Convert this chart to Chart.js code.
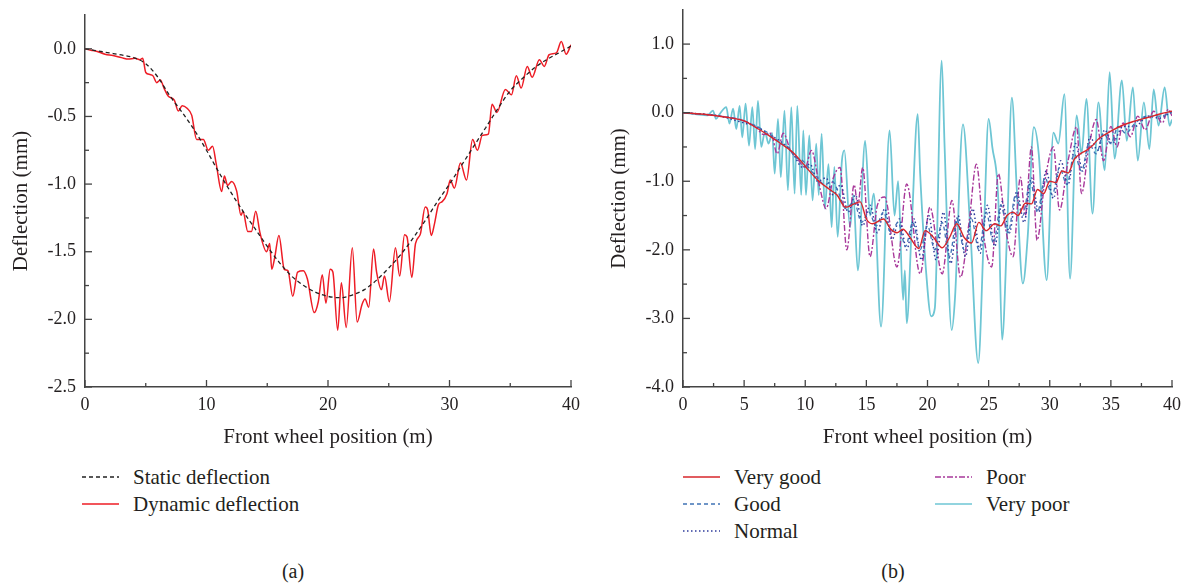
<!DOCTYPE html>
<html>
<head>
<meta charset="utf-8">
<script src="https://cdn.jsdelivr.net/npm/chart.js@4.4.0/dist/chart.umd.min.js"></script>
<style>
    body { margin:0; background:#fff; width:1188px; height:584px; overflow:hidden; position:relative; font-family:'Liberation Serif', serif; color:#231f20; }
    canvas { position:absolute; top:-10px; }
    .item { position:absolute; height:24px; line-height:24px; font-size:21px; white-space:nowrap; display:flex; align-items:center; }
    .item svg { margin-right:14px; }
    .cap { position:absolute; top:560px; font-size:20px; transform:translateX(-50%); }
</style>
</head>
<body>
<canvas id="chartA" width="590" height="465" style="left:0"></canvas>
<canvas id="chartB" width="590" height="465" style="left:598px"></canvas>
<div id="legendA"></div>
<div id="legendB"></div>
<div class="cap" style="left:293px">(a)</div>
<div class="cap" style="left:893px">(b)</div>

<script>
const FONT = "'Liberation Serif', serif";

// (a) static vs dynamic deflection, [x (m), deflection (mm)]
const staticDeflection = [[0,0],[1,-0.015],[2,-0.03],[3,-0.045],[4,-0.065],[5,-0.11],[6,-0.21],[7,-0.35],[8,-0.47],[9,-0.6],
    [10,-0.75],[11,-0.91],[12,-1.06],[13,-1.2],[14,-1.33],[15,-1.46],[16,-1.58],[17,-1.68],[18,-1.75],[19,-1.8],
    [20,-1.83],[21,-1.84],[22,-1.82],[23,-1.78],[24,-1.71],[25,-1.62],[26,-1.52],[27,-1.4],[28,-1.27],[29,-1.13],
    [30,-1.0],[31,-0.86],[32,-0.72],[33,-0.58],[34,-0.44],[35,-0.31],[36,-0.22],[37,-0.14],[38,-0.08],[39,-0.03],[40,0.02]];
const dynamicDeflection = [[0,0],[0.5,-0.01],[1,-0.02],[1.65,-0.04],[2.3,-0.05],[3,-0.065],[3.57,-0.076],[4.1,-0.07],[4.53,-0.08],[4.75,-0.07],
    [5.0,-0.175],[5.35,-0.19],[5.6,-0.2],[5.9,-0.25],[6.2,-0.23],[6.5,-0.29],[6.86,-0.35],[7.35,-0.38],[7.68,-0.46],[8.0,-0.42],
    [8.4,-0.44],[8.78,-0.49],[9.19,-0.67],[9.74,-0.67],[10.15,-0.75],[10.5,-0.72],[10.8,-0.85],[11.25,-1.055],[11.47,-0.94],[11.74,-1.01],
    [12.07,-0.98],[12.48,-1.05],[12.84,-1.23],[13.0,-1.2],[13.4,-1.35],[13.7,-1.35],[14.05,-1.2],[14.4,-1.36],[14.95,-1.5],[15.2,-1.44],
    [15.37,-1.63],[15.6,-1.55],[15.96,-1.38],[16.4,-1.63],[16.7,-1.64],[17.1,-1.83],[17.5,-1.65],[17.97,-1.64],[18.3,-1.7],[18.87,-1.95],
    [19.2,-1.87],[19.53,-1.67],[19.83,-1.88],[20.18,-1.63],[20.4,-1.65],[20.8,-2.08],[21.1,-1.73],[21.5,-2.06],[22.0,-1.47],[22.4,-2.02],
    [22.8,-1.89],[23.05,-1.85],[23.35,-1.91],[23.75,-1.48],[24.0,-1.65],[24.4,-1.78],[24.65,-1.68],[25.05,-1.87],[25.55,-1.47],[25.9,-1.68],
    [26.3,-1.375],[26.5,-1.39],[26.9,-1.69],[27.2,-1.44],[27.6,-1.37],[28.0,-1.17],[28.2,-1.19],[28.5,-1.38],[28.75,-1.3],[29.1,-1.15],
    [29.4,-1.13],[29.8,-1.07],[30.06,-0.97],[30.4,-1.03],[30.9,-0.845],[31.4,-0.97],[31.9,-0.67],[32.3,-0.75],[32.7,-0.64],[33.2,-0.63],
    [33.5,-0.41],[33.9,-0.47],[34.6,-0.3],[35.1,-0.34],[35.5,-0.2],[35.9,-0.29],[36.4,-0.13],[36.8,-0.21],[37.4,-0.08],[37.8,-0.13],
    [38.2,-0.044],[38.8,-0.03],[39.2,0.054],[39.6,-0.04],[40.0,0.03]];

// (b) road roughness levels, [x (m), deflection (mm)]
const veryGood = [[0,0],[2,-0.03],[4,-0.08],[5,-0.12],[6,-0.22],[7,-0.33],[8,-0.45],[9,-0.58],[10,-0.78],[11,-0.98],
    [12,-1.12],[12.6,-1.2],[13.3,-1.38],[14,-1.33],[14.5,-1.3],[15,-1.55],[15.5,-1.62],[16.4,-1.55],[17,-1.7],[17.5,-1.75],
    [18,-1.7],[18.5,-1.8],[19.3,-1.98],[19.8,-1.72],[20.5,-1.82],[21.2,-1.97],[21.8,-1.82],[22.4,-1.62],[23,-1.82],[23.6,-1.9],
    [24.2,-1.6],[24.8,-1.72],[25.5,-1.62],[26,-1.65],[26.5,-1.5],[27,-1.45],[27.4,-1.5],[28,-1.32],[28.5,-1.33],[29,-1.12],
    [29.5,-1.18],[30,-1.0],[30.5,-1.02],[31,-0.85],[31.5,-0.88],[32,-0.68],[32.5,-0.6],[33,-0.55],[33.5,-0.48],[34,-0.38],
    [35,-0.27],[36,-0.18],[37,-0.12],[38,-0.07],[39,-0.02],[40,0.02]];
const good = [[0,0],[3,-0.05],[5,-0.12],[6,-0.2],[7,-0.3],[8,-0.45],[8.6,-0.5],[9.2,-0.65],[9.8,-0.7],[10.5,-0.85],
    [11,-0.95],[11.6,-1.05],[12.2,-1.0],[12.8,-1.2],[13.3,-1.4],[14,-1.3],[14.6,-1.6],[15.2,-1.45],[15.8,-1.65],[16.4,-1.45],
    [17,-1.75],[17.6,-1.6],[18.2,-1.95],[18.8,-1.6],[19.4,-2.0],[20,-1.65],[20.6,-2.0],[21.2,-1.6],[21.8,-2.1],[22.4,-1.55],
    [23,-2.0],[23.6,-1.55],[24.2,-2.0],[24.8,-1.45],[25.4,-1.9],[26,-1.35],[26.6,-1.75],[27.2,-1.2],[27.8,-1.5],[28.4,-1.0],
    [29,-1.45],[29.6,-0.95],[30.2,-1.2],[30.8,-0.8],[31.4,-1.05],[32,-0.6],[32.6,-0.85],[33.2,-0.45],[33.8,-0.6],[34.4,-0.3],
    [35,-0.45],[35.6,-0.2],[36.2,-0.3],[37,-0.15],[38,-0.05],[39,-0.05],[40,0]];
const normal = [[0,0],[3,-0.05],[5,-0.15],[6,-0.2],[7,-0.32],[8,-0.42],[9,-0.6],[9.8,-0.8],[10.4,-0.75],[11,-1.0],
    [11.7,-0.95],[12.3,-1.2],[12.9,-1.05],[13.5,-1.45],[14.1,-1.2],[14.7,-1.65],[15.3,-1.35],[15.9,-1.75],[16.5,-1.4],[17.1,-1.85],
    [17.7,-1.55],[18.3,-2.0],[18.9,-1.55],[19.5,-2.15],[20.1,-1.5],[20.7,-2.15],[21.3,-1.45],[21.9,-2.2],[22.5,-1.5],[23.1,-2.1],
    [23.7,-1.4],[24.3,-2.05],[24.9,-1.35],[25.5,-1.95],[26.1,-1.3],[26.7,-1.75],[27.3,-1.15],[27.9,-1.6],[28.5,-0.95],[29.1,-1.45],
    [29.7,-0.85],[30.3,-1.25],[30.9,-0.7],[31.5,-1.05],[32.1,-0.45],[32.7,-0.85],[33.3,-0.35],[33.9,-0.55],[34.5,-0.25],[35.1,-0.45],
    [36,-0.2],[37,-0.2],[38,-0.05],[39,-0.08],[40,0.02]];
const poor = [[0,0],[3,-0.05],[5,-0.12],[6,-0.22],[6.6,-0.32],[7.2,-0.3],[7.7,-0.6],[8.2,-0.3],[8.8,-0.55],[9.4,-0.68],
    [10,-0.8],[10.5,-0.55],[11.2,-1.1],[11.7,-1.4],[12.3,-0.95],[12.85,-0.8],[13.4,-2.0],[14.0,-1.05],[14.3,-1.35],[14.7,-0.8],
    [15.3,-2.1],[15.9,-1.35],[16.5,-1.23],[17.5,-2.25],[18.3,-1.04],[19.4,-2.35],[20.2,-1.38],[21.2,-2.35],[22.0,-1.28],[22.7,-2.4],
    [23.4,-1.6],[24.0,-0.75],[24.6,-1.8],[25.25,-2.25],[25.8,-0.89],[26.4,-1.7],[27.0,-2.1],[27.6,-0.94],[28.0,-1.5],[28.5,-0.5],
    [28.96,-1.86],[29.6,-1.0],[30.3,-0.5],[30.8,-1.42],[31.5,-0.7],[32.2,-0.21],[32.6,-1.18],[33.2,-0.5],[33.8,-0.1],[34.4,-0.7],
    [35,-0.2],[35.5,-0.5],[36,-0.15],[36.6,-0.35],[37.2,-0.05],[37.8,-0.25],[38.5,0.02],[39.2,-0.15],[39.7,0.05],[40,-0.05]];
const veryPoor = [[0,0],[1,-0.02],[2,-0.04],[2.45,0.03],[2.7,-0.09],[3.0,-0.02],[3.54,0.08],[3.8,-0.16],[4.1,0.06],[4.36,-0.24],
    [4.63,0.1],[4.85,-0.36],[5.12,0.13],[5.4,-0.48],[5.67,0.08],[5.9,-0.53],[6.13,0.17],[6.4,-0.5],[6.7,-0.28],[7.0,-0.45],
    [7.3,-0.3],[7.5,-0.89],[7.77,-0.09],[8.0,-0.94],[8.3,0.03],[8.58,-1.13],[8.86,0.08],[9.13,-1.18],[9.35,0.1],[9.67,-1.2],
    [9.84,-0.26],[10.06,-1.2],[10.33,-0.33],[10.6,-1.28],[10.9,-0.45],[11.1,-1.2],[11.34,-0.31],[11.6,-1.4],[11.9,-0.75],[12.16,-1.67],
    [12.38,-0.79],[12.65,-1.81],[13.0,-0.7],[13.2,-0.55],[13.66,-1.67],[13.93,-1.2],[14.3,-2.3],[14.9,-0.41],[15.3,-1.5],[15.6,-1.18],
    [16.2,-3.12],[16.9,-0.26],[17.3,-1.5],[17.6,-1.0],[18.0,-2.73],[18.15,-2.3],[18.3,-3.07],[18.7,-1.7],[19.2,-0.02],[19.4,-0.89],
    [19.9,-2.35],[20.3,-2.97],[20.6,-2.85],[21.16,0.76],[21.4,-0.5],[21.98,-3.17],[22.25,-2.7],[22.9,-0.17],[23.5,-1.7],[24.15,-3.65],
    [24.6,-1.8],[25.0,-0.09],[25.3,-0.5],[25.8,-1.3],[26.1,-3.31],[26.5,-1.8],[26.9,0.22],[27.3,-1.1],[27.8,-2.49],[28.2,-1.8],
    [28.7,-0.21],[29.1,-0.6],[29.75,-2.44],[30.3,-0.29],[30.7,-0.45],[31.2,0.27],[31.66,-2.42],[32.2,-0.04],[32.6,-0.6],[33.0,0.2],
    [33.5,-1.47],[33.98,0.15],[34.5,-0.84],[34.9,0.59],[35.3,-0.67],[35.9,0.47],[36.3,-0.41],[36.8,0.37],[37.2,-0.7],[37.7,0.15],
    [38.15,-0.53],[38.5,0.34],[38.9,-0.19],[39.4,0.37],[39.8,-0.19],[40,-0.1]];

// axis ticks
const xTicksA = [0, 10, 20, 30, 40];
const yTicksA = [0, -0.5, -1.0, -1.5, -2.0, -2.5];
const xTicksB = [0, 5, 10, 15, 20, 25, 30, 35, 40];
const yTicksB = [1.0, 0, -1.0, -2.0, -3.0, -4.0];

const mids = arr => arr.slice(1).map((v, i) => (v + arr[i]) / 2);
const pts = arr => arr.map(p => ({ x: p[0], y: p[1] }));

// tick marks pointing into the plot
const innerTicks = {
    id: 'innerTicks',
    afterDraw(chart, args, opts) {
        const { ctx, chartArea: a, scales: { x, y } } = chart;
        ctx.save();
        ctx.strokeStyle = '#444';
        ctx.lineWidth = 1.3;
        const mark = (x0, y0, dx, dy) => { ctx.beginPath(); ctx.moveTo(x0, y0); ctx.lineTo(x0 + dx, y0 + dy); ctx.stroke(); };
        opts.x.forEach(v => mark(x.getPixelForValue(v), a.bottom, 0, -7));
        mids(opts.x).forEach(v => mark(x.getPixelForValue(v), a.bottom, 0, -4));
        opts.y.forEach(v => mark(a.left, y.getPixelForValue(v), 7, 0));
        mids(opts.y).forEach(v => mark(a.left, y.getPixelForValue(v), 4, 0));
        ctx.restore();
    }
};

function line(data, color, width, dash) {
    return { data: pts(data), borderColor: color, borderWidth: width, borderDash: dash || [],
             pointRadius: 0, fill: false, cubicInterpolationMode: 'monotone' };
}

function makeChart(id, datasets, xTicks, yTicks, yMin, yMax, padTop, padRight) {
    return new Chart(document.getElementById(id), {
        type: 'line',
        data: { datasets },
        options: {
            responsive: false, animation: false, devicePixelRatio: 1,
            layout: { padding: { top: padTop, right: padRight, left: 0, bottom: 0 } },
            plugins: { legend: { display: false }, tooltip: { enabled: false },
                       innerTicks: { x: xTicks, y: yTicks } },
            scales: {
                x: {
                    type: 'linear', min: 0, max: 40,
                    grid: { display: false, drawTicks: false },
                    border: { color: '#444', width: 1.5 },
                    afterBuildTicks: s => { s.ticks = xTicks.map(v => ({ value: v })); },
                    afterFit: s => { s.height = 68; },
                    ticks: { font: { family: FONT, size: 18 }, color: '#231f20', padding: 7, maxRotation: 0,
                             callback: v => String(v) },
                    title: { display: true, text: 'Front wheel position (m)', color: '#231f20',
                             font: { family: FONT, size: 21 }, padding: { top: 0, bottom: 5 } }
                },
                y: {
                    type: 'linear', min: yMin, max: yMax,
                    grid: { display: false, drawTicks: false },
                    border: { color: '#444', width: 1.5 },
                    afterBuildTicks: s => { s.ticks = yTicks.map(v => ({ value: v })); },
                    afterFit: s => { s.width = 85; },
                    ticks: { font: { family: FONT, size: 18 }, color: '#231f20', padding: 9,
                             callback: v => v.toFixed(1) },
                    title: { display: true, text: 'Deflection (mm)', color: '#231f20',
                             font: { family: FONT, size: 21 }, padding: { top: 9, bottom: 0 } }
                }
            }
        },
        plugins: [innerTicks]
    });
}

makeChart('chartA', [
    line(staticDeflection, '#222', 1.3, [4, 3]),
    line(dynamicDeflection, '#ee1c25', 1.5)
], xTicksA, yTicksA, -2.5, 0.25, 25, 19);

makeChart('chartB', [
    line(veryGood, '#d7262b', 1.4),
    line(good, '#3f73b5', 1.3, [4, 3]),
    line(normal, '#2f3c9c', 1.5, [1.5, 2.5]),
    line(poor, '#a8389a', 1.4, [6, 2, 2, 2]),
    line(veryPoor, '#6ec6d4', 1.8)
], xTicksB, yTicksB, -4.0, 1.5, 18, 16);

// legends
function legendItem(parent, left, top, label, color, dash) {
    const el = document.createElement('div');
    el.className = 'item';
    el.style.left = left + 'px';
    el.style.top = top + 'px';
    el.innerHTML = `<svg width="37" height="4"><line x1="0" y1="2" x2="37" y2="2" stroke="${color}" stroke-width="1.4" stroke-dasharray="${dash || 'none'}"/></svg>${label}`;
    document.getElementById(parent).appendChild(el);
}
legendItem('legendA', 82, 465, 'Static deflection', '#222', '4 3');
legendItem('legendA', 82, 492, 'Dynamic deflection', '#ee1c25');
legendItem('legendB', 683, 465, 'Very good', '#d7262b');
legendItem('legendB', 683, 492, 'Good', '#3f73b5', '4 3');
legendItem('legendB', 683, 519, 'Normal', '#2f3c9c', '1.5 2.5');
legendItem('legendB', 935, 465, 'Poor', '#a8389a', '6 2 2 2');
legendItem('legendB', 935, 492, 'Very poor', '#6ec6d4');
</script>
</body>
</html>
